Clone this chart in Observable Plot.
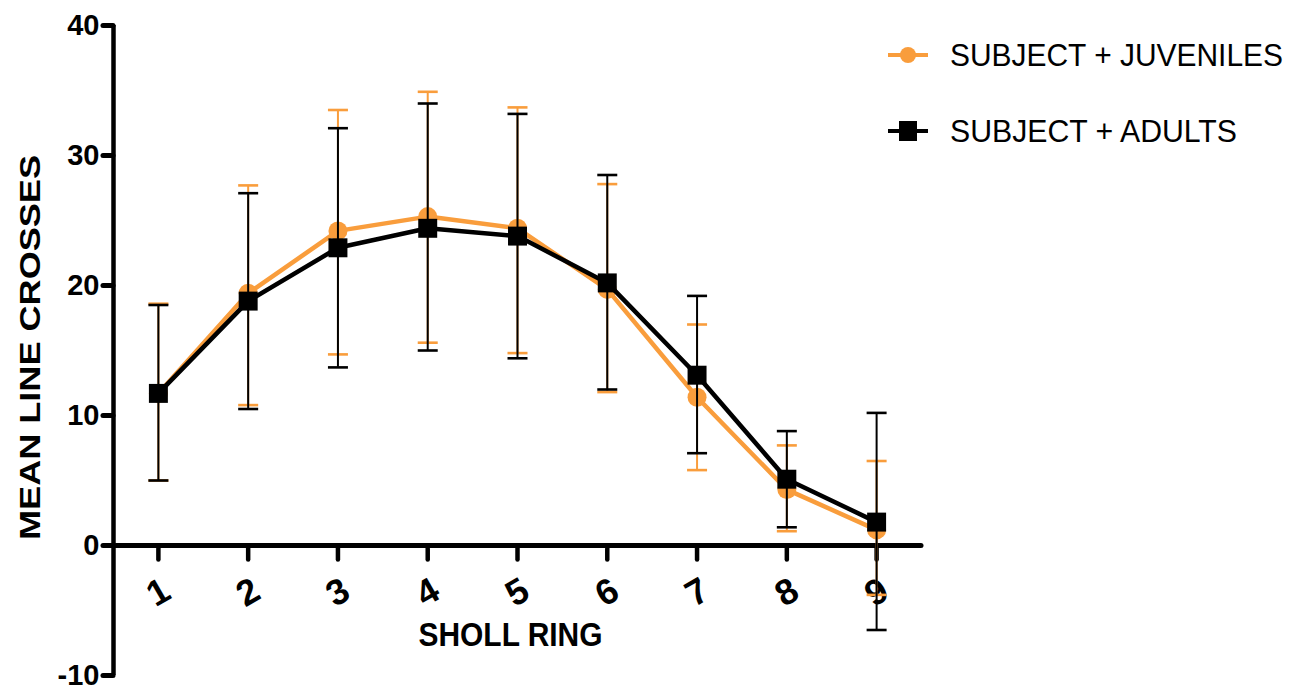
<!DOCTYPE html>
<html>
<head>
<meta charset="utf-8">
<script src="https://cdn.jsdelivr.net/npm/d3@7"></script>
<script src="https://cdn.jsdelivr.net/npm/@observablehq/plot@0.6"></script>
<style>
  html, body { margin: 0; padding: 0; background: #fff; }
  #chart svg { display: block; }
</style>
</head>
<body>
<div id="chart"></div>
<script>
// ---- data ----
const rings = [1, 2, 3, 4, 5, 6, 7, 8, 9];
const juvMean = [11.7, 19.4, 24.2, 25.3, 24.4, 19.7, 11.4, 4.3, 1.2];
const juvHi   = [18.6, 27.7, 33.5, 34.9, 33.7, 27.8, 17.0, 7.7, 6.5];
const juvLo   = [5.0, 10.8, 14.7, 15.6, 14.8, 11.8, 5.8, 1.1, -3.8];
const adMean  = [11.7, 18.8, 22.9, 24.4, 23.8, 20.2, 13.1, 5.1, 1.8];
const adHi    = [18.5, 27.1, 32.1, 34.0, 33.2, 28.5, 19.2, 8.8, 10.2];
const adLo    = [5.0, 10.5, 13.7, 15.0, 14.4, 12.0, 7.1, 1.4, -6.5];
const yTicks = [-10, 0, 10, 20, 30, 40];
const seriesNames = ["SUBJECT + JUVENILES", "SUBJECT + ADULTS"];
const xTitle = "SHOLL RING";
const yTitle = "MEAN LINE CROSSES";

const ORANGE = "#F99D3C";
const BLACK = "#000000";
const FONT = "'Liberation Sans', Arial, Helvetica, sans-serif";

const juv = rings.map((r, i) => ({x: r, y: juvMean[i], lo: juvLo[i], hi: juvHi[i]}));
const ad  = rings.map((r, i) => ({x: r, y: adMean[i], lo: adLo[i], hi: adHi[i]}));

// custom symbols
const capSym = {draw(ctx) { ctx.moveTo(-10, 0); ctx.lineTo(10, 0); }};
const xTickSym = {draw(ctx) { ctx.moveTo(0, 3); ctx.lineTo(0, 14); }};

function series(data, color, symbol, r) {
  return [
    Plot.ruleX(data, {x: "x", y1: "lo", y2: "hi", stroke: color, strokeWidth: 2}),
    Plot.dot(data, {x: "x", y: "hi", symbol: capSym, stroke: color, strokeWidth: 2.6}),
    Plot.dot(data, {x: "x", y: "lo", symbol: capSym, stroke: color, strokeWidth: 2.6}),
    Plot.line(data, {x: "x", y: "y", stroke: color, strokeWidth: 4.5}),
    Plot.dot(data, {x: "x", y: "y", symbol, r, fill: color, stroke: "none"})
  ];
}

const chart = Plot.plot({
  width: 1302,
  height: 692,
  marginLeft: 113,
  marginRight: 381,
  marginTop: 25,
  marginBottom: 17,
  style: {fontFamily: FONT, color: "#000", background: "#fff", overflow: "visible"},
  x: {domain: [0.5, 9.5], axis: null},
  y: {domain: [-10, 40], axis: null},
  marks: [
    // y axis
    Plot.ruleX([0.5], {y1: -10, y2: 40, strokeWidth: 4.5}),
    Plot.axisY({
      ticks: yTicks, tickSize: 10, tickPadding: 4, strokeWidth: 5, strokeLinecap: "round",
      tickFormat: d => String(d), fontSize: 29, fontWeight: "bold", label: null
    }),
    // x axis at y = 0
    Plot.ruleY([0], {x1: 0.5, x2: 9.5, strokeWidth: 5, strokeLinecap: "round"}),
    Plot.dot(rings, {x: d => d, y: 0, symbol: xTickSym, stroke: BLACK, strokeWidth: 4.5, strokeLinecap: "round"}),
    Plot.text(rings, {x: d => d, y: 0, text: d => String(d), dy: 47, rotate: -30,
      fontSize: 36, fontWeight: "bold", lineAnchor: "middle", textAnchor: "middle", fill: BLACK}),
    // axis titles
    Plot.text([yTitle], {frameAnchor: "left", dx: -83, dy: -3, rotate: -90, text: d => d,
      fontSize: 30, fontWeight: "bold", lineAnchor: "middle", textAnchor: "middle", fill: BLACK}),
    Plot.text([xTitle], {frameAnchor: "bottom", dx: -7, dy: -40, text: d => d,
      fontSize: 33, fontWeight: "bold", lineAnchor: "middle", textAnchor: "middle", fill: BLACK}),
    // data
    ...series(juv, ORANGE, "circle", 9.5),
    ...series(ad, BLACK, "square", 10.7)
  ]
});

const svg = d3.select(chart);
// stretch titles like the reference
svg.selectAll("text").filter(function() { return this.textContent === yTitle; })
  .attr("textLength", 385).attr("lengthAdjust", "spacingAndGlyphs");
svg.selectAll("text").filter(function() { return this.textContent === xTitle; })
  .attr("textLength", 184).attr("lengthAdjust", "spacingAndGlyphs");

// legend (in right margin)
const legendColors = [ORANGE, BLACK];
const legendY = [55, 131];
const legendLen = [333, 287];
const lg = svg.append("g").attr("font-family", FONT).attr("text-anchor", "start");
seriesNames.forEach((name, i) => {
  const y = legendY[i];
  lg.append("line").attr("x1", 888).attr("x2", 928).attr("y1", y).attr("y2", y)
    .attr("stroke", legendColors[i]).attr("stroke-width", 4);
  if (i === 0) {
    lg.append("circle").attr("cx", 908).attr("cy", y).attr("r", 8).attr("fill", legendColors[i]);
  } else {
    lg.append("rect").attr("x", 899).attr("y", y - 10).attr("width", 18).attr("height", 20).attr("fill", legendColors[i]);
  }
  lg.append("text").attr("x", 950).attr("y", y).attr("dy", "0.36em")
    .attr("text-anchor", "start")
    .attr("font-size", 31).attr("fill", "#000")
    .attr("textLength", legendLen[i]).attr("lengthAdjust", "spacingAndGlyphs")
    .text(name);
});

document.getElementById("chart").appendChild(chart);
</script>
</body>
</html>
